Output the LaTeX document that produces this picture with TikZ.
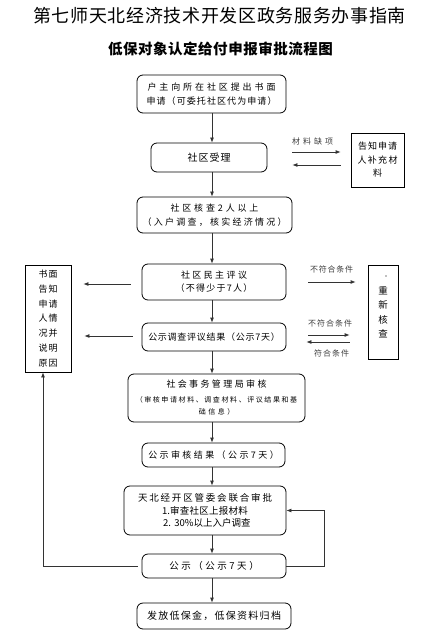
\documentclass[tikz,border=0pt]{standalone}
\usepackage{fontspec}
\setmainfont{Noto Sans CJK SC}
\usetikzlibrary{arrows.meta}
\def\sprA#1{#1\sprB}
\def\sprB#1{\ifx\relax#1\else\hfil#1\expandafter\sprB\fi}
\newcommand\spreadto[2]{\makebox[#1][s]{\sprA#2\relax}}
\newcommand\fsz[2]{\fontsize{#1pt}{#2pt}\selectfont}
\begin{document}
\begin{tikzpicture}[x=1pt,y=-1pt,
  box/.style={draw=black, line width=0.8pt, rounded corners=6pt, inner sep=0pt, align=center},
  sqbox/.style={draw=black, line width=0.8pt, inner sep=0pt, align=center},
  arr/.style={draw=black!80, line width=0.8pt, -{Latex[length=5pt,width=4pt]}},
  lbl/.style={text=black!75, inner sep=0pt, font={\fsz{8}{10}}},
  txt/.style={inner sep=0pt, align=center}]
\fill[white] (0,0) rectangle (437,644);
\path[use as bounding box] (0,0) rectangle (437,644);
\coordinate (ax) at (212,0);
% titles
\node[txt, font={\fsz{18}{20}}] (t1) at (219.5,16) {\spreadto{373pt}{第七师天北经济技术开发区政务服务办事指南}};
\node[txt, font={\fsz{14.5}{16}\bfseries}] (t2) at (220.5,49) {\spreadto{225pt}{低保对象认定给付申报审批流程图}};
% main boxes
\node[box, minimum width=149pt, minimum height=38pt, font={\fsz{9}{14}}] (b1) at (211.5,94)
  {\spreadto{128pt}{户主向所在社区提出书面}\\\spreadto{130pt}{申请（可委托社区代为申请）}};
\node[box, minimum width=116pt, minimum height=29pt, font={\fsz{10}{12}}] (b2) at (209,157.5)
  {\spreadto{43pt}{社区受理}};
\node[box, minimum width=155pt, minimum height=36pt, font={\fsz{9}{14}}] (b3) at (214.5,215)
  {\spreadto{88pt}{社区核查2人以上}\\\spreadto{144pt}{（入户调查，核实经济情况）}};
\node[box, minimum width=144pt, minimum height=36pt, font={\fsz{9}{13}}] (b4) at (214,282)
  {\spreadto{66pt}{社区民主评议}\\\spreadto{77pt}{（不得少于7人）}};
\node[box, minimum width=144pt, minimum height=28pt, font={\fsz{9}{12}}] (b5) at (214,337)
  {\spreadto{131.5pt}{公示调查评议结果（公示7天）}};
\node[box, minimum width=177pt, minimum height=48pt] (b6) at (216.5,398)
  {\fsz{9}{13}\spreadto{100pt}{社会事务管理局审核}\\[3pt]\fsz{7}{10}\spreadto{161.5pt}{（审核申请材料、调查材料、评议结果和基}\\\fsz{7}{10}\spreadto{35.5pt}{础信息）}};
\node[box, minimum width=143pt, minimum height=24pt, font={\fsz{9}{12}}] (b7) at (213.5,455)
  {\spreadto{130.5pt}{公示审核结果（公示7天）}};
\node[box, minimum width=162pt, minimum height=49pt, font={\fsz{9.5}{12.5}}] (b8) at (205,510.5)
  {\spreadto{134pt}{天北经开区管委会联合审批}\\\spreadto{86pt}{{1.}审查社区上报材料}\\\spreadto{84pt}{{2.\hspace{3.5pt}30\%}以上入户调查}};
\node[box, minimum width=144pt, minimum height=24pt, font={\fsz{9.5}{12}}] (b9) at (214,566)
  {\spreadto{89.5pt}{公示（公示7天）}};
\node[box, minimum width=154pt, minimum height=26pt, font={\fsz{10}{12}}] (b10) at (214,616)
  {\spreadto{134pt}{发放低保金，低保资料归档}};
% side boxes
\node[sqbox, minimum width=53pt, minimum height=54pt, font={\fsz{9}{13.5}}] (r1) at (377.5,160)
  {\spreadto{39pt}{告知申请}\\\spreadto{40pt}{人补充材}\\料};
\node[sqbox, minimum width=30pt, minimum height=94pt] (r2) at (383,312) {};
\node[txt, font={\fsz{9.5}{14.5}}] (r2t) at (383,312.5) {重\\新\\核\\查};
\fill[black!50] (386,276) circle (0.8pt);
\node[sqbox, minimum width=46pt, minimum height=107pt, font={\fsz{9}{14.7}}] (L) at (48,318.5)
  {\spreadto{19pt}{书面}\\\spreadto{19pt}{告知}\\\spreadto{19pt}{申请}\\\spreadto{19pt}{人情}\\\spreadto{19pt}{况并}\\\spreadto{19pt}{说明}\\\spreadto{19pt}{原因}};
% labels
\node[lbl] (l1) at (312.5,141) {\spreadto{41pt}{材料缺项}};
\node[lbl] (l2) at (331.5,269) {\spreadto{43pt}{不符合条件}};
\node[lbl] (l3) at (330,323) {\spreadto{44pt}{不符合条件}};
\node[lbl] (l4) at (331.5,353) {\spreadto{35pt}{符合条件}};
% vertical arrows
\foreach \a/\b in {b1/b2,b2/b3,b3/b4,b4/b5,b5/b6,b6/b7,b7/b8,b8/b9,b9/b10}
  \draw[arr] (\a.south -| ax) -- (\b.north -| ax);
% horizontal arrows
\draw[arr] ([xshift=25pt,yshift=5.5pt]b2.east) -- ([xshift=-10pt,yshift=8pt]r1.west);
\draw[arr] ([xshift=-10pt,yshift=-5pt]r1.west) -- ([xshift=25pt,yshift=-7.5pt]b2.east);
\draw[arr] ([xshift=22pt]b4.east) -- ([xshift=-12pt,yshift=30pt]r2.west);
\draw[arr] ([xshift=22pt,yshift=2pt]b5.east) -- ([xshift=-18pt,yshift=-23pt]r2.west);
\draw[arr] ([xshift=-18pt,yshift=-30pt]r2.west) -- ([xshift=20pt,yshift=-5pt]b5.east);
\draw[arr] ([xshift=-11pt,yshift=-2pt]b4.west) -- ([xshift=12pt,yshift=34.5pt]L.east);
\draw[arr] ([xshift=-9pt,yshift=1pt]b5.west) -- ([xshift=13pt,yshift=-17.5pt]L.east);
% loops
\draw[arr] ([xshift=-4pt]b9.west) -| ([xshift=-5pt]L.south);
\draw[arr] (b9.east) -- ++(38,0) |- (b8.east);
\end{tikzpicture}
\end{document}
